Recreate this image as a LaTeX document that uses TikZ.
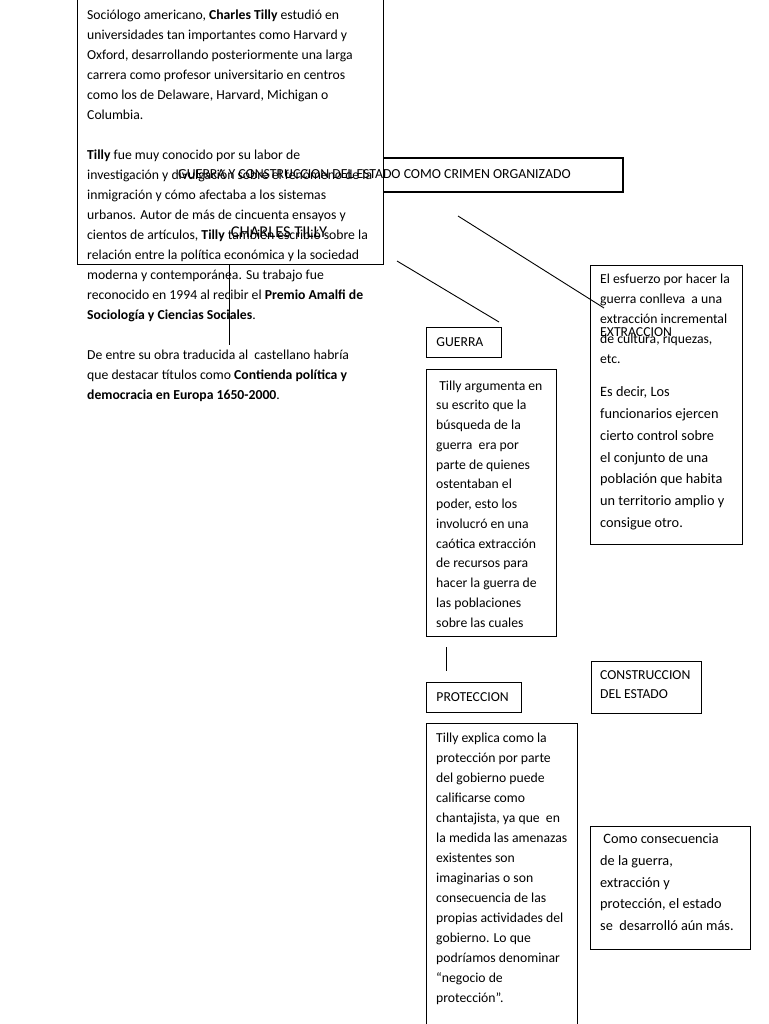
\documentclass[tikz,border=0pt]{standalone}
\usepackage{fontspec}
\setmainfont{Carlito}

\tikzset{
  frame/.style={draw, line width=0.9pt, anchor=north west, inner sep=0pt},
  txt/.style={align=left, inner sep=0pt, anchor=north west, font=\fontsize{13.7}{20}\selectfont},
  bigtxt/.style={txt, font=\fontsize{14.3}{21.8}\selectfont},
  lbl/.style={draw, line width=0.9pt, anchor=north west, inner xsep=10pt, inner ysep=0pt, align=left, minimum height=30pt, font=\fontsize{13.7}{20}\selectfont},
  link/.style={line width=0.9pt}
}

\begin{document}
\begin{tikzpicture}[x=1pt,y=-1pt]
\useasboundingbox (0,0) rectangle (768,1024);

% titulo y cuadro biografico (el cuadro tapa el borde del titulo)
\node[frame, line width=2pt, minimum width=450, minimum height=34] (ttlbox) at (172,157) {};
\node[frame, fill=white, minimum width=306, minimum height=269] (biobox) at (77,-5) {};
\node[anchor=west, inner sep=0pt, font=\fontsize{13.8}{16}\selectfont] (ttl) at (178,174) {GUERRA Y CONSTRUCCION DEL ESTADO COMO CRIMEN ORGANIZADO};
\node[txt] (bio) at (87,9.5) {Sociólogo americano, \textbf{Charles Tilly} estudió en\\
universidades tan importantes como Harvard y\\
Oxford, desarrollando posteriormente una larga\\
carrera como profesor universitario en centros\\
como los de Delaware, Harvard, Michigan o\\
Columbia.\\[20pt]
\textbf{Tilly} fue muy conocido por su labor de\\
investigación y divulgación sobre el fenómeno de la\\
inmigración y cómo afectaba a los sistemas\\
urbanos. Autor de más de cincuenta ensayos y\\
cientos de artículos, \textbf{Tilly} también escribió sobre la\\
relación entre la política económica y la sociedad\\
moderna y contemporánea. Su trabajo fue\\
reconocido en 1994 al recibir el \textbf{Premio Amalfi de}\\
\textbf{Sociología y Ciencias Sociales}.\\[20pt]
De entre su obra traducida al\ \ castellano habría\\
que destacar títulos como \textbf{Contienda política y}\\
\textbf{democracia en Europa 1650-2000}.};
\node[font=\fontsize{16.5}{17}\selectfont] (tilly) at (279,232) {CHARLES TILLY};

% guerra
\node[lbl, minimum width=75, text width=55] (guerra) at (426,327) {GUERRA};
\node[frame, minimum width=130, minimum height=267] (argbox) at (426,369) {};
\node[txt, font=\fontsize{13.7}{19.75}\selectfont] (arg) at (436,380.5) {\ Tilly argumenta en\\
su escrito que la\\
búsqueda de la\\
guerra\ \ era por\\
parte de quienes\\
ostentaban el\\
poder, esto los\\
involucró en una\\
caótica extracción\\
de recursos para\\
hacer la guerra de\\
las poblaciones\\
sobre las cuales};

% proteccion
\node[lbl, minimum width=95, text width=75] (prot) at (426,682) {PROTECCION};
\node[frame, minimum width=151, minimum height=320] (expbox) at (426,723) {};
\node[txt] (exp) at (436,732.5) {Tilly explica como la\\
protección por parte\\
del gobierno puede\\
calificarse como\\
chantajista, ya que\ \ en\\
la medida las amenazas\\
existentes son\\
imaginarias o son\\
consecuencia de las\\
propias actividades del\\
gobierno. Lo que\\
podríamos denominar\\
“negocio de\\
protección”.};

% extraccion
\node[frame, minimum width=152, minimum height=279] (esfbox) at (590,265) {};
\node[txt] (esf) at (600,274) {El esfuerzo por hacer la\\
guerra conlleva\ \ a una\\
extracción incremental\\
de cultura, riquezas,\\
etc.};
\node[bigtxt] (esfb) at (600,386.5) {Es decir, Los\\
funcionarios ejercen\\
cierto control sobre\\
el conjunto de una\\
población que habita\\
un territorio amplio y\\
consigue otro.};
\node[anchor=west, inner sep=0pt, font=\fontsize{13.7}{16}\selectfont] (extr) at (600,332) {EXTRACCION};

% construccion del estado
\node[frame, minimum width=110, minimum height=52] (consbox) at (591,661) {};
\node[txt, font=\fontsize{13.7}{19}\selectfont] (cons) at (600,670.5) {CONSTRUCCION\\ DEL ESTADO};
\node[frame, minimum width=160, minimum height=123] (conbox) at (590,826) {};
\node[bigtxt] (con) at (600,833.5) {\ Como consecuencia\\
de la guerra,\\
extracción y\\
protección, el estado\\
se\ \ desarrolló aún más.};

% lineas
\coordinate (tillyA) at (229,265);
\coordinate (tillyB) at (229,345);
\coordinate (lnA) at (458,216);
\coordinate (lnB) at (604,308);
\coordinate (lnC) at (397,261);
\coordinate (lnD) at (499,322);
\coordinate (lnE) at (446,647);
\coordinate (lnF) at (446,671);
\draw[link] (tillyA) -- (tillyB);
\draw[link] (lnA) -- (lnB);
\draw[link] (lnC) -- (lnD);
\draw[link] (lnE) -- (lnF);
\end{tikzpicture}
\end{document}
